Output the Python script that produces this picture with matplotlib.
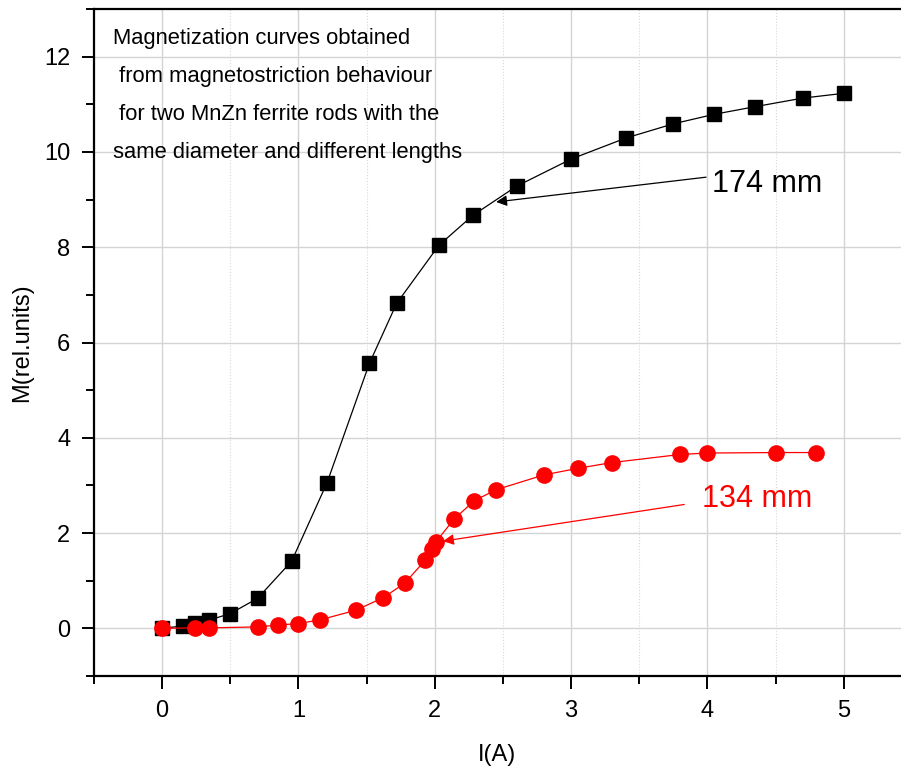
import matplotlib
matplotlib.use("Agg")
import matplotlib.pyplot as plt
from matplotlib.ticker import MultipleLocator

plt.rcParams['font.family'] = ['Liberation Sans', 'DejaVu Sans']

# 174 mm rod (black squares)
i_174 = [0.00, 0.15, 0.24, 0.34, 0.50, 0.70, 0.95, 1.21, 1.52, 1.72, 2.03, 2.28,
         2.60, 3.00, 3.40, 3.75, 4.05, 4.35, 4.70, 5.00]
m_174 = [0.00, 0.05, 0.11, 0.17, 0.31, 0.63, 1.41, 3.06, 5.56, 6.82, 8.04, 8.67,
         9.28, 9.85, 10.29, 10.59, 10.79, 10.95, 11.13, 11.23]

# 134 mm rod (red circles)
i_134 = [0.00, 0.24, 0.34, 0.70, 0.85, 1.00, 1.16, 1.42, 1.62, 1.78, 1.93, 1.98,
         2.01, 2.14, 2.29, 2.45, 2.80, 3.05, 3.30, 3.80, 4.00, 4.50, 4.80]
m_134 = [0.00, 0.01, 0.01, 0.03, 0.07, 0.10, 0.18, 0.38, 0.64, 0.95, 1.43, 1.66,
         1.82, 2.29, 2.68, 2.91, 3.22, 3.36, 3.48, 3.65, 3.68, 3.69, 3.69]

note_lines = ["Magnetization curves obtained",
              " from magnetostriction behaviour",
              " for two MnZn ferrite rods with the",
              "same diameter and different lengths"]

fig = plt.figure(figsize=(9.01, 7.67), dpi=100)
ax = fig.add_axes([94 / 901, 1 - 676 / 767, 1 - 94 / 901, (676 - 9) / 767])

ax.set_xlim(-0.5, 5.42)
ax.set_ylim(-1, 13)

ax.xaxis.set_major_locator(MultipleLocator(1))
ax.xaxis.set_minor_locator(MultipleLocator(0.5))
ax.yaxis.set_major_locator(MultipleLocator(2))
ax.yaxis.set_minor_locator(MultipleLocator(1))

ax.grid(which='major', color='#d4d4d4', linewidth=1.0, linestyle='-', zorder=0)
ax.grid(which='minor', axis='x', color='#d8d8d8', linewidth=0.8, linestyle=':', zorder=0)
ax.set_axisbelow(True)

for side in ['left', 'bottom', 'top']:
    ax.spines[side].set_linewidth(1.6)
ax.spines['right'].set_visible(False)

ax.tick_params(which='major', direction='out', length=9, width=1.4, labelsize=17, pad=8,
               top=False, right=False)
ax.tick_params(which='minor', direction='out', length=5.5, width=1.4, top=False, right=False)

ax.plot(i_174, m_174, color='black', linewidth=0.9, marker='s', markersize=9.5, zorder=3)
ax.plot(i_134, m_134, color='#ff0000', linewidth=0.9, marker='o', markersize=11, zorder=4)

ax.set_xlabel('I(A)', fontsize=17, labelpad=16)
ax.set_ylabel('M(rel.units)', fontsize=17, labelpad=8)

# descriptive note in the upper left
for k, line in enumerate(note_lines):
    ax.text(-0.36, 12.38 - k * 0.80, line, fontsize=15.8, ha='left', va='center', zorder=5)

ax.annotate('', xy=(2.45, 8.95), xytext=(3.99, 9.47),
            arrowprops=dict(arrowstyle='-|>', color='black', lw=0.9,
                            mutation_scale=16, shrinkA=0, shrinkB=0), zorder=5)
ax.text(4.03, 9.33, '174 mm', fontsize=22, ha='left', va='center', color='black')

ax.annotate('', xy=(2.06, 1.83), xytext=(3.83, 2.60),
            arrowprops=dict(arrowstyle='-|>', color='#ff0000', lw=0.9,
                            mutation_scale=16, shrinkA=0, shrinkB=0), zorder=5)
ax.text(3.96, 2.72, '134 mm', fontsize=22, ha='left', va='center', color='#ff0000')

fig.savefig('out.png', dpi=100)
